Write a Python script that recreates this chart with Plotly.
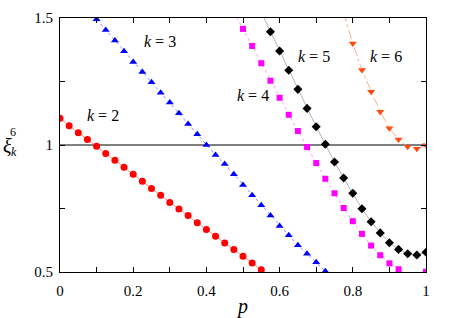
import plotly.graph_objects as go

# ---- data ----
p_k2 = [0.0, 0.025, 0.05, 0.075, 0.1, 0.125, 0.15, 0.175, 0.2, 0.225, 0.25, 0.275,
        0.3, 0.325, 0.35, 0.375, 0.4, 0.425, 0.45, 0.475, 0.5, 0.525, 0.55]
xi_k2 = [1.105, 1.076, 1.048, 1.022, 0.995, 0.967, 0.940, 0.912, 0.885, 0.857, 0.829, 0.802,
         0.774, 0.748, 0.722, 0.694, 0.667, 0.641, 0.614, 0.589, 0.562, 0.535, 0.509]

p_k3 = [0.1, 0.125, 0.15, 0.175, 0.2, 0.225, 0.25, 0.275, 0.3, 0.325, 0.35, 0.375, 0.4,
        0.425, 0.45, 0.475, 0.5, 0.525, 0.55, 0.575, 0.6, 0.625, 0.65, 0.675, 0.7, 0.725]
xi_k3 = [1.495, 1.453, 1.411, 1.369, 1.327, 1.287, 1.247, 1.206, 1.167, 1.125, 1.083, 1.042, 1.0,
         0.961, 0.925, 0.885, 0.843, 0.802, 0.763, 0.722, 0.681, 0.645, 0.605, 0.572, 0.538, 0.503]

p_k4 = [0.475, 0.5, 0.525, 0.55, 0.575, 0.6, 0.625, 0.65, 0.675, 0.7, 0.725, 0.75, 0.775,
        0.8, 0.825, 0.85, 0.875, 0.9, 0.925, 0.95, 0.975, 1.0]
xi_k4 = [1.524, 1.457, 1.390, 1.322, 1.253, 1.186, 1.119, 1.055, 0.992, 0.929, 0.867, 0.810, 0.752,
         0.700, 0.650, 0.604, 0.566, 0.534, 0.511, 0.485, 0.482, 0.501]

p_k5 = [0.55, 0.575, 0.6, 0.625, 0.65, 0.675, 0.7, 0.725, 0.75, 0.775, 0.8, 0.825, 0.85,
        0.875, 0.9, 0.925, 0.95, 0.975, 1.0]
xi_k5 = [1.522, 1.446, 1.370, 1.294, 1.219, 1.144, 1.072, 1.003, 0.933, 0.870, 0.810, 0.749, 0.698,
         0.654, 0.615, 0.589, 0.572, 0.567, 0.578]

p_k6 = [0.775, 0.8, 0.825, 0.85, 0.875, 0.9, 0.925, 0.95, 0.975, 1.0]
xi_k6 = [1.52, 1.40, 1.295, 1.21, 1.131, 1.066, 1.022, 0.993, 0.985, 0.999]

x_tickvals = [0.0, 0.1, 0.2, 0.3, 0.4, 0.5, 0.6, 0.7, 0.8, 0.9, 1.0]
x_ticktext = ["0", "", "0.2", "", "0.4", "", "0.6", "", "0.8", "", "1"]
y_tickvals = [0.5, 0.75, 1.0, 1.25, 1.5]
y_ticktext = ["0.5", "", "1", "", "1.5"]

labels = ["<i>k</i> = 2", "<i>k</i> = 3", "<i>k</i> = 4", "<i>k</i> = 5", "<i>k</i> = 6"]
label_pos = [(0.118, 1.115), (0.272, 1.406), (0.526, 1.195), (0.695, 1.350), (0.89, 1.350)]

FONT = "Liberation Serif"

fig = go.Figure()

series = [
    (p_k2, xi_k2, "#ff0000", "#ff7070", "solid", "circle", 7),
    (p_k3, xi_k3, "#0000ff", "#7070ff", "dot", "triangle-up", 7),
    (p_k4, xi_k4, "#ff00ff", "#ff80ff", "dot", "square", 6),
    (p_k5, xi_k5, "#000000", "#a0a0a0", "solid", "diamond", 7),
    (p_k6, xi_k6, "#ff4a10", "#ff9a70", "dashdot", "triangle-down", 7),
]
for px, py, mc, lc, dash, sym, sz in series:
    fig.add_trace(go.Scatter(
        x=px, y=py, mode="lines+markers",
        line=dict(color=lc, width=0.8, dash=dash),
        marker=dict(color=mc, symbol=sym, size=sz, line=dict(width=0)),
        showlegend=False, cliponaxis=True,
    ))

# horizontal reference line at 1
fig.add_shape(type="line", xref="x", yref="y", x0=0, x1=1, y0=1, y1=1,
              line=dict(color="black", width=1), layer="below")

for txt, (lx, ly) in zip(labels, label_pos):
    fig.add_annotation(x=lx, y=ly, xref="x", yref="y", text=txt, showarrow=False,
                       font=dict(family=FONT, size=16, color="black"))

# y-axis title xi_k^6
fig.add_annotation(x=0, y=1.0, xref="x", yref="y", text="<i>ξ</i>", showarrow=False,
                   xshift=-53, yshift=-1, font=dict(family=FONT, size=20, color="black"))
fig.add_annotation(x=0, y=1.0, xref="x", yref="y", text="6", showarrow=False,
                   xshift=-47, yshift=13, font=dict(family=FONT, size=12, color="black"))
fig.add_annotation(x=0, y=1.0, xref="x", yref="y", text="<i>k</i>", showarrow=False,
                   xshift=-46.5, yshift=-7, font=dict(family=FONT, size=12, color="black"))

axis_common = dict(
    showgrid=False, zeroline=False, showline=True, linecolor="black", linewidth=1,
    mirror="ticks", ticks="inside", ticklen=5, tickcolor="black", tickwidth=1,
    tickfont=dict(family=FONT, size=15, color="black"), automargin=False,
)
fig.update_xaxes(range=[0, 1], tickmode="array", tickvals=x_tickvals, ticktext=x_ticktext,
                 ticklabelstandoff=5,
                 title=dict(text="<i>p</i>", font=dict(family=FONT, size=20, color="black"),
                            standoff=0),
                 **axis_common)
fig.update_yaxes(range=[0.5, 1.5], tickmode="array", tickvals=y_tickvals, ticktext=y_ticktext,
                 ticklabelstandoff=3,
                 **axis_common)

fig.update_layout(
    width=453, height=318,
    margin=dict(l=60, r=27, t=18, b=46, autoexpand=False),
    paper_bgcolor="white", plot_bgcolor="white",
    font=dict(family=FONT, color="black"),
)

fig.write_html("out.html", config={"displayModeBar": False},
               post_script="document.body.style.margin='0px';document.body.style.padding='0px';")
